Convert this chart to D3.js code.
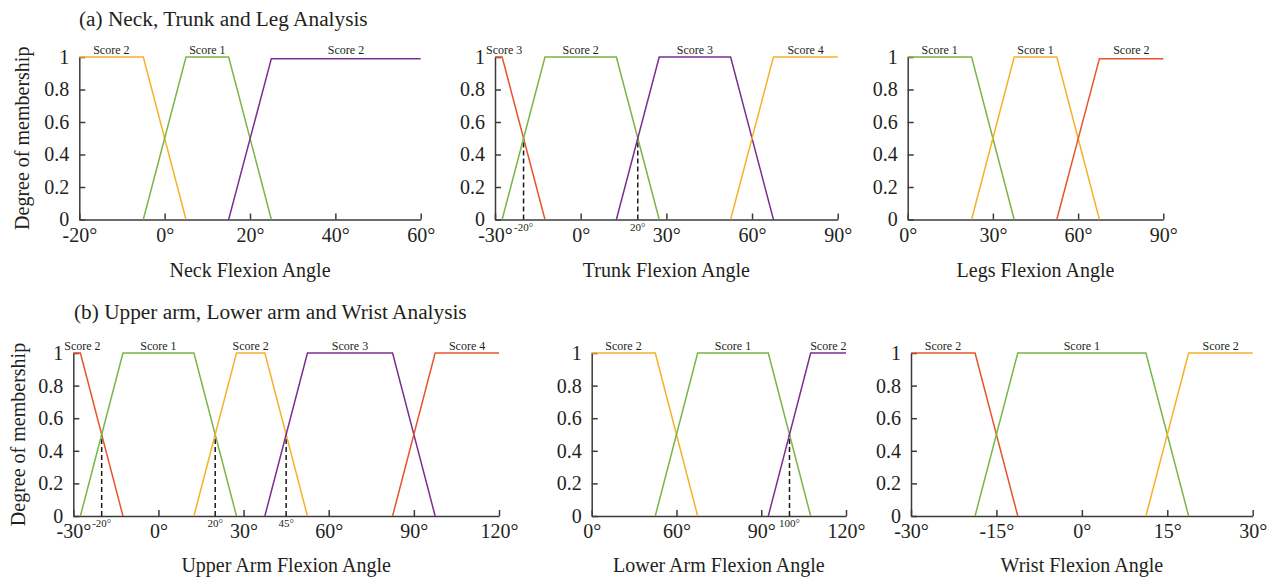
<!DOCTYPE html>
<html>
<head>
<meta charset="utf-8">
<script src="https://d3js.org/d3.v7.min.js"></script>
<style>
  body { margin: 0; background: #fff; }
  text { font-family: "Liberation Serif", "DejaVu Serif", serif; fill: #231f20; }
  .axis path, .axis line { stroke: #3b3b3b; stroke-width: 1.5px; }
  .axis text { font-size: 20px; font-family: "Liberation Serif", serif; fill: #231f20; }
  .score { font-size: 12px; }
  .mark-lbl { font-size: 11px; }
  .title { font-size: 21.3px; }
  .ytitle, .xtitle { font-size: 20px; }
  .series { fill: none; stroke-width: 1.5px; }
  .mark { stroke: #1a1a1a; stroke-width: 1.5px; stroke-dasharray: 5,3; }
</style>
</head>
<body>
<svg id="chart" width="1275" height="580"></svg>
<script>
// membership functions, points are [angle in degrees, degree of membership]
const neckLabels = ["Score 2", "Score 1", "Score 2"];
const neckSeries = [
  [[-20, 1], [-5, 1], [5, 0]],
  [[-5, 0], [5, 1], [15, 1], [25, 0]],
  [[15, 0], [25, 0.99], [60, 0.99]]
];
const neckColors = ["orange", "green", "purple"];
const neckDomain = [-20, 60];
const neckTicks = [-20, 0, 20, 40, 60];
const neckTickLabels = ["-20°", "0°", "20°", "40°", "60°"];

const trunkLabels = ["Score 3", "Score 2", "Score 3", "Score 4"];
const trunkSeries = [
  [[-30, 1], [-27.5, 1], [-12.5, 0]],
  [[-27.5, 0], [-12.5, 1], [12.5, 1], [27.5, 0]],
  [[12.5, 0], [27.5, 1], [52.5, 1], [67.5, 0]],
  [[52.5, 0], [67.5, 1], [90, 1]]
];
const trunkColors = ["red", "green", "purple", "orange"];
const trunkDomain = [-30, 90];
const trunkTicks = [-30, 0, 30, 60, 90];
const trunkTickLabels = ["-30°", "0°", "30°", "60°", "90°"];
const trunkMarks = [-20, 20];
const trunkMarkLabels = ["-20°", "20°"];

const legsLabels = ["Score 1", "Score 1", "Score 2"];
const legsSeries = [
  [[0, 1], [22.5, 1], [37.5, 0]],
  [[22.5, 0], [37.5, 1], [52.5, 1], [67.5, 0]],
  [[52.5, 0], [67.5, 0.99], [90, 0.99]]
];
const legsColors = ["green", "orange", "red"];
const legsDomain = [0, 90];
const legsTicks = [0, 30, 60, 90];
const legsTickLabels = ["0°", "30°", "60°", "90°"];

const upperLabels = ["Score 2", "Score 1", "Score 2", "Score 3", "Score 4"];
const upperSeries = [
  [[-30, 1], [-27.5, 1], [-12.5, 0]],
  [[-27.5, 0], [-12.5, 1], [12.5, 1], [27.5, 0]],
  [[12.5, 0], [27.5, 1], [37.5, 1], [52.5, 0]],
  [[37.5, 0], [52.5, 1], [82.5, 1], [97.5, 0]],
  [[82.5, 0], [97.5, 1], [120, 1]]
];
const upperColors = ["red", "green", "orange", "purple", "red"];
const upperDomain = [-30, 120];
const upperTicks = [-30, 0, 30, 60, 90, 120];
const upperTickLabels = ["-30°", "0°", "30°", "60°", "90°", "120°"];
const upperMarks = [-20, 20, 45];
const upperMarkLabels = ["-20°", "20°", "45°"];

// the left end of this axis is labelled 0° in the original figure
const lowerLabels = ["Score 2", "Score 1", "Score 2"];
const lowerSeries = [
  [[30, 1], [52.5, 1], [67.5, 0]],
  [[52.5, 0], [67.5, 1], [92.5, 1], [107.5, 0]],
  [[92.5, 0], [107.5, 1], [120, 1]]
];
const lowerColors = ["orange", "green", "purple"];
const lowerDomain = [30, 120];
const lowerTicks = [30, 60, 90, 120];
const lowerTickLabels = ["0°", "60°", "90°", "120°"];
const lowerMarks = [100];
const lowerMarkLabels = ["100°"];

const wristLabels = ["Score 2", "Score 1", "Score 2"];
const wristSeries = [
  [[-30, 1], [-18.75, 1], [-11.25, 0]],
  [[-18.75, 0], [-11.25, 1], [11.25, 1], [18.75, 0]],
  [[11.25, 0], [18.75, 1], [30, 1]]
];
const wristColors = ["red", "green", "orange"];
const wristDomain = [-30, 30];
const wristTicks = [-30, -15, 0, 15, 30];
const wristTickLabels = ["-30°", "-15°", "0°", "15°", "30°"];

const yTicks = [0, 0.2, 0.4, 0.6, 0.8, 1];
const yTickLabels = ["0", "0.2", "0.4", "0.6", "0.8", "1"];

const palette = { orange: "#f4b12c", green: "#79b547", purple: "#7b2e91", red: "#e5552b" };

// layout
const rows = [
  { y0: 219.5, y1: 57, title: "(a) Neck, Trunk and Leg Analysis", titleX: 79, titleY: 26, ylabX: 29, xtitleY: 277 },
  { y0: 516, y1: 353, title: "(b) Upper arm, Lower arm and Wrist Analysis", titleX: 74, titleY: 319, ylabX: 25, xtitleY: 572 }
];

const panels = [
  { row: 0, x0: 79.3, x1: 420.7, series: neckSeries, labels: neckLabels, colors: neckColors, domain: neckDomain, ticks: neckTicks, tickLabels: neckTickLabels, marks: [], markLabels: [], name: "Neck Flexion Angle" },
  { row: 0, x0: 495, x1: 837.7, series: trunkSeries, labels: trunkLabels, colors: trunkColors, domain: trunkDomain, ticks: trunkTicks, tickLabels: trunkTickLabels, marks: trunkMarks, markLabels: trunkMarkLabels, name: "Trunk Flexion Angle" },
  { row: 0, x0: 907.7, x1: 1163.3, series: legsSeries, labels: legsLabels, colors: legsColors, domain: legsDomain, ticks: legsTicks, tickLabels: legsTickLabels, marks: [], markLabels: [], name: "Legs Flexion Angle" },
  { row: 1, x0: 73.3, x1: 499, series: upperSeries, labels: upperLabels, colors: upperColors, domain: upperDomain, ticks: upperTicks, tickLabels: upperTickLabels, marks: upperMarks, markLabels: upperMarkLabels, name: "Upper Arm Flexion Angle" },
  { row: 1, x0: 591.7, x1: 846, series: lowerSeries, labels: lowerLabels, colors: lowerColors, domain: lowerDomain, ticks: lowerTicks, tickLabels: lowerTickLabels, marks: lowerMarks, markLabels: lowerMarkLabels, name: "Lower Arm Flexion Angle" },
  { row: 1, x0: 911, x1: 1252.7, series: wristSeries, labels: wristLabels, colors: wristColors, domain: wristDomain, ticks: wristTicks, tickLabels: wristTickLabels, marks: [], markLabels: [], name: "Wrist Flexion Angle" }
];

const svg = d3.select("#chart");

rows.forEach(r => {
  svg.append("text")
    .attr("class", "title")
    .attr("x", r.titleX)
    .attr("y", r.titleY)
    .text(r.title);

  svg.append("text")
    .attr("class", "ytitle")
    .attr("text-anchor", "middle")
    .attr("transform", `translate(${r.ylabX}, ${(r.y0 + r.y1) / 2}) rotate(-90)`)
    .text("Degree of membership");
});

panels.forEach(p => {
  const r = rows[p.row];
  const x = d3.scaleLinear().domain(p.domain).range([p.x0, p.x1]);
  const y = d3.scaleLinear().domain([0, 1]).range([r.y0, r.y1]);
  const g = svg.append("g");

  g.append("g")
    .attr("class", "axis")
    .attr("transform", `translate(0, ${y(0)})`)
    .call(d3.axisBottom(x)
      .tickValues(p.ticks)
      .tickFormat((d, i) => p.tickLabels[i])
      .tickSizeInner(-6)
      .tickSizeOuter(0)
      .tickPadding(8));

  g.append("g")
    .attr("class", "axis")
    .attr("transform", `translate(${p.x0}, 0)`)
    .call(d3.axisLeft(y)
      .tickValues(yTicks)
      .tickFormat((d, i) => yTickLabels[i])
      .tickSizeInner(-6)
      .tickSizeOuter(0)
      .tickPadding(10));

  // dashed lines at the crossing points
  g.selectAll(".mark")
    .data(p.marks)
    .enter()
    .append("line")
    .attr("class", "mark")
    .attr("x1", d => x(d))
    .attr("x2", d => x(d))
    .attr("y1", y(0))
    .attr("y2", y(0.5));

  g.selectAll(".mark-lbl")
    .data(p.marks)
    .enter()
    .append("text")
    .attr("class", "mark-lbl")
    .attr("text-anchor", "middle")
    .attr("x", d => x(d))
    .attr("y", y(0) + 11)
    .text((d, i) => p.markLabels[i]);

  const line = d3.line().x(d => x(d[0])).y(d => y(d[1]));

  g.selectAll(".series")
    .data(p.series)
    .enter()
    .append("path")
    .attr("class", "series")
    .attr("stroke", (d, i) => palette[p.colors[i]])
    .attr("d", line);

  // score labels above the top of each set
  p.series.forEach((s, i) => {
    const top = s.filter(d => d[1] >= 0.98);
    const cx = x(d3.mean([top[0][0], top[top.length - 1][0]]));
    const t = g.append("text")
      .attr("class", "score")
      .attr("text-anchor", "middle")
      .attr("y", y(1) - 3.5)
      .text(p.labels[i]);
    const half = t.node().getComputedTextLength() / 2;
    t.attr("x", Math.max(cx, p.x0 + half - 9));
  });

  g.append("text")
    .attr("class", "xtitle")
    .attr("text-anchor", "middle")
    .attr("x", (p.x0 + p.x1) / 2)
    .attr("y", r.xtitleY)
    .text(p.name);
});
</script>
</body>
</html>
